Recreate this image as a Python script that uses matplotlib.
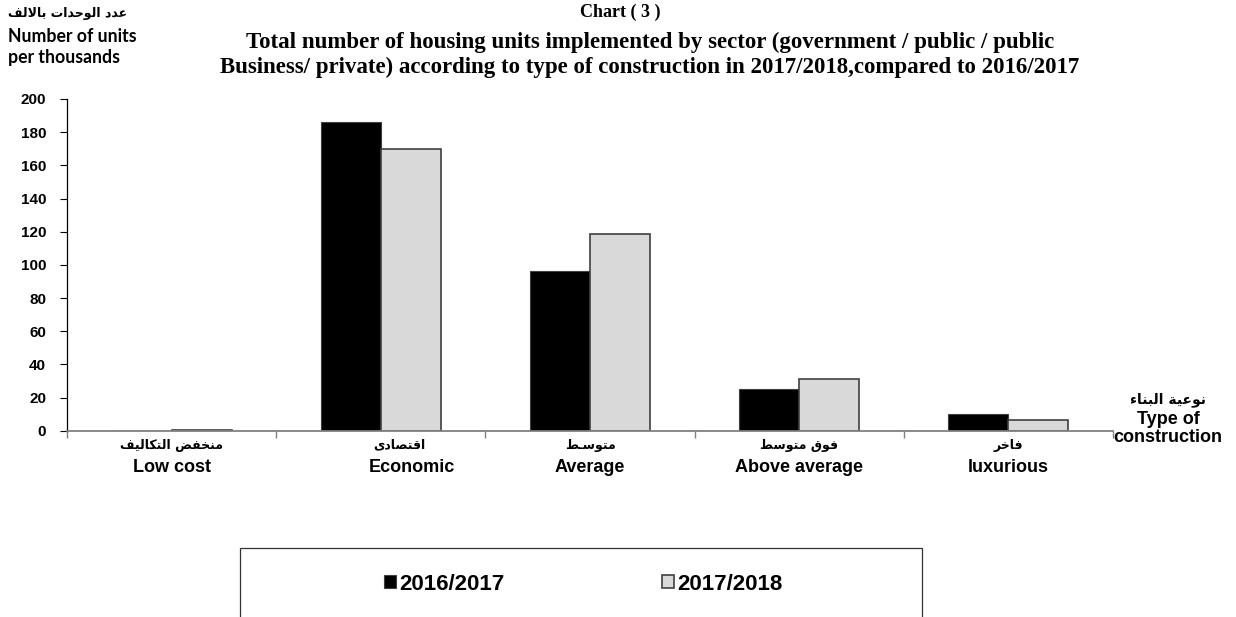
import matplotlib
matplotlib.use("Agg")
import matplotlib.pyplot as plt
from matplotlib.patches import Rectangle
import numpy as np

# ---------------- data ----------------
categories_en = ["Low cost", "Economic", "Average", "Above average", "luxurious"]
categories_ar = ["منخفض التكاليف", "اقتصادى", "متوسـط", "فوق متوسط", "فاخر"]
series_names = ["2016/2017", "2017/2018"]
values_2016_2017 = [0.0, 186.3, 96.3, 25.2, 9.9]
values_2017_2018 = [0.6, 170.0, 118.6, 31.0, 6.6]
y_ticks = [0, 20, 40, 60, 80, 100, 120, 140, 160, 180, 200]

title_lines = ["Chart ( 3 )",
               "Total number of housing units implemented by sector (government / public / public",
               "Business/ private) according to type of construction in 2017/2018,compared to 2016/2017"]
ylabel_ar = "عدد الوحدات بالالف"
ylabel_en = ["Number of units", "per thousands"]
xlabel_ar = "نوعية البناء"
xlabel_en = ["Type of", "construction"]

# layout only: horizontal pixel nudges of the category labels (en, ar)
label_nudge_en = [0, 31, 0, 0, 0]
label_nudge_ar = [0, 19, 0, 0, 0]

# ------------- minimal Arabic shaping (presentation forms + RTL) -------------
FORMS = {  # isolated, final, initial, medial
    '\u0627': ('\uFE8D', '\uFE8E', None, None),
    '\u0628': ('\uFE8F', '\uFE90', '\uFE91', '\uFE92'),
    '\u0629': ('\uFE93', '\uFE94', None, None),
    '\u062A': ('\uFE95', '\uFE96', '\uFE97', '\uFE98'),
    '\u062D': ('\uFEA1', '\uFEA2', '\uFEA3', '\uFEA4'),
    '\u062E': ('\uFEA5', '\uFEA6', '\uFEA7', '\uFEA8'),
    '\u062F': ('\uFEA9', '\uFEAA', None, None),
    '\u0631': ('\uFEAD', '\uFEAE', None, None),
    '\u0633': ('\uFEB1', '\uFEB2', '\uFEB3', '\uFEB4'),
    '\u0635': ('\uFEB9', '\uFEBA', '\uFEBB', '\uFEBC'),
    '\u0636': ('\uFEBD', '\uFEBE', '\uFEBF', '\uFEC0'),
    '\u0637': ('\uFEC1', '\uFEC2', '\uFEC3', '\uFEC4'),
    '\u0639': ('\uFEC9', '\uFECA', '\uFECB', '\uFECC'),
    '\u0641': ('\uFED1', '\uFED2', '\uFED3', '\uFED4'),
    '\u0642': ('\uFED5', '\uFED6', '\uFED7', '\uFED8'),
    '\u0643': ('\uFED9', '\uFEDA', '\uFEDB', '\uFEDC'),
    '\u0644': ('\uFEDD', '\uFEDE', '\uFEDF', '\uFEE0'),
    '\u0645': ('\uFEE1', '\uFEE2', '\uFEE3', '\uFEE4'),
    '\u0646': ('\uFEE5', '\uFEE6', '\uFEE7', '\uFEE8'),
    '\u0648': ('\uFEED', '\uFEEE', None, None),
    '\u0649': ('\uFEEF', '\uFEF0', None, None),
    '\u064A': ('\uFEF1', '\uFEF2', '\uFEF3', '\uFEF4'),
    '\u0621': ('\uFE80', None, None, None),
    '\u0640': ('\u0640', '\u0640', '\u0640', '\u0640'),
}


def joins_left(c):   # can connect to the following letter
    return c in FORMS and FORMS[c][2] is not None


def joins_right(c):  # can connect to the preceding letter
    return c in FORMS and FORMS[c][1] is not None


def shape_arabic(s):
    chars = []
    i = 0
    while i < len(s):
        if s[i] == '\u0644' and i + 1 < len(s) and s[i + 1] == '\u0627':
            chars.append('LA')
            i += 2
        else:
            chars.append(s[i])
            i += 1

    def jl(c):
        return False if c == 'LA' else joins_left(c)

    def jr(c):
        return True if c == 'LA' else joins_right(c)

    out = []
    for k, c in enumerate(chars):
        prev = chars[k - 1] if k > 0 else None
        nxt = chars[k + 1] if k + 1 < len(chars) else None
        conn_prev = prev is not None and jl(prev) and jr(c)
        if c == 'LA':
            out.append('\uFEFC' if conn_prev else '\uFEFB')
            continue
        if c not in FORMS:
            out.append(c)
            continue
        conn_next = nxt is not None and jl(c) and jr(nxt)
        iso, fin, ini, med = FORMS[c]
        if conn_prev and conn_next:
            out.append(med)
        elif conn_prev:
            out.append(fin)
        elif conn_next:
            out.append(ini)
        else:
            out.append(iso)
    return ''.join(out)[::-1]


# ---------------- figure ----------------
W, H = 1236, 617
fig = plt.figure(figsize=(W / 100, H / 100), dpi=100)
fig.patch.set_facecolor("white")


def fx(px):
    return px / W


def fy(py):
    return 1 - py / H


ax = fig.add_axes([fx(67), fy(430.7), fx(1113) - fx(67), fy(99) - fy(430.7)])

x = np.arange(len(categories_en))
bw = 0.287
ax.bar(x - bw / 2, values_2016_2017, width=bw, color="black", edgecolor="#404040",
       linewidth=0.8, label=series_names[0], zorder=3)
ax.bar(x + bw / 2, values_2017_2018, width=bw, color="#d9d9d9", edgecolor="#404040",
       linewidth=1.2, label=series_names[1], zorder=3)

ax.set_xlim(-0.5, len(categories_en) - 0.5)
ax.set_ylim(0, 200)
ax.set_yticks(y_ticks)
ax.set_yticklabels([str(v) for v in y_ticks], fontfamily="Liberation Sans",
                   fontweight="bold", fontsize=11)
ax.tick_params(axis="y", direction="out", length=5, width=0.8, color="black", pad=10)

ax.set_xticks(np.arange(-0.5, len(categories_en) + 0.5, 1.0))
ax.set_xticklabels([])
ax.tick_params(axis="x", direction="out", length=5, width=1.0, color="#808080")

for s in ["top", "right"]:
    ax.spines[s].set_visible(False)
ax.spines["left"].set_color("black")
ax.spines["left"].set_linewidth(0.9)
ax.spines["bottom"].set_color("#808080")
ax.spines["bottom"].set_linewidth(1.3)
ax.spines["bottom"].set_zorder(4)

# category labels
for i, (en, ar) in enumerate(zip(categories_en, categories_ar)):
    xd = ax.transData.transform((i, 0))[0]
    fig.text(fx(xd + label_nudge_ar[i]), fy(445), shape_arabic(ar), ha="center",
             va="center", fontfamily="DejaVu Sans", fontweight="bold", fontsize=9)
    fig.text(fx(xd + label_nudge_en[i]), fy(467), en, ha="center", va="center",
             fontfamily="Liberation Sans", fontweight="bold", fontsize=13)

# titles
fig.text(fx(620), fy(12), title_lines[0], ha="center", va="center",
         fontfamily="Liberation Serif", fontweight="bold", fontsize=13)
fig.text(fx(650), fy(42), title_lines[1], ha="center", va="center",
         fontfamily="Liberation Serif", fontweight="bold", fontsize=16.5)
fig.text(fx(650), fy(67), title_lines[2], ha="center", va="center",
         fontfamily="Liberation Serif", fontweight="bold", fontsize=16.5)

# y axis label (top-left)
fig.text(fx(8), fy(13), shape_arabic(ylabel_ar), ha="left", va="center",
         fontfamily="DejaVu Sans", fontweight="bold", fontsize=9)
fig.text(fx(8), fy(36), ylabel_en[0], ha="left", va="center",
         fontfamily="Lato", fontweight="bold", fontsize=12.7)
fig.text(fx(8), fy(58), ylabel_en[1], ha="left", va="center",
         fontfamily="Lato", fontweight="bold", fontsize=12.7)

# x axis label (right)
fig.text(fx(1168), fy(400), shape_arabic(xlabel_ar), ha="center", va="center",
         fontfamily="DejaVu Sans", fontweight="bold", fontsize=10)
fig.text(fx(1168), fy(419), xlabel_en[0], ha="center", va="center",
         fontfamily="Liberation Sans", fontweight="bold", fontsize=13)
fig.text(fx(1168), fy(438), xlabel_en[1], ha="center", va="center",
         fontfamily="Liberation Sans", fontweight="bold", fontsize=13)

# legend box (extends past bottom edge)
fig.patches.append(Rectangle((fx(240), fy(630)), fx(922) - fx(240), fy(548) - fy(630),
                             transform=fig.transFigure, facecolor="white",
                             edgecolor="#333333", linewidth=0.9, zorder=0))
handles, labels = ax.get_legend_handles_labels()
leg = fig.legend(handles, labels, loc="center", bbox_to_anchor=(fx(583), fy(584)),
                 ncol=2, frameon=False, handlelength=0.55, handleheight=0.55,
                 handletextpad=0.12, columnspacing=7.1,
                 prop={"family": "Liberation Sans", "weight": "bold", "size": 16})

fig.savefig("out.png", dpi=100, facecolor="white")
